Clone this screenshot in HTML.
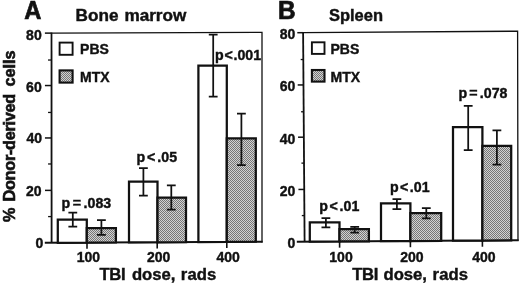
<!DOCTYPE html>
<html><head><meta charset="utf-8"><title>Figure</title>
<style>html,body{margin:0;padding:0;background:#fff;overflow:hidden}svg{display:block}text{font-family:"Liberation Sans",Arial,Helvetica,sans-serif;font-weight:bold;fill:#111;stroke:#111;stroke-width:0.4}</style>
</head><body>
<svg width="520" height="285" viewBox="0 0 520 285">
<defs><pattern id="ht" width="2" height="2" patternUnits="userSpaceOnUse"><rect width="2" height="2" fill="#d2d2d2"/><rect width="1" height="1" fill="#767676"/><rect x="1" y="1" width="1" height="1" fill="#767676"/></pattern></defs>
<rect width="520" height="285" fill="#fff"/>
<g stroke="#111" fill="none">
<path d="M51.5 33.1 L262 32.4 L262 242.5" stroke-width="1.3"/>
<path d="M51.5 32.5 L51.6 242.8" stroke-width="1.8"/>
<path d="M44.8 242.84 L262.65 241.70" stroke-width="2"/>
<path d="M44.98 190.38 H51.58" stroke-width="1.5"/>
<path d="M44.95 137.96 H51.55" stroke-width="1.5"/>
<path d="M44.93 85.54 H51.53" stroke-width="1.5"/>
<path d="M44.90 33.12 H51.50" stroke-width="1.5"/>
<path d="M48.09 216.59 H51.59" stroke-width="1.3"/>
<path d="M48.06 163.97 H51.56" stroke-width="1.3"/>
<path d="M48.04 112.45 H51.54" stroke-width="1.3"/>
<path d="M48.01 60.03 H51.51" stroke-width="1.3"/>
<path d="M87 242.61 V248.81" stroke-width="1.6"/>
<path d="M157.2 242.25 V248.45" stroke-width="1.6"/>
<path d="M226.8 241.88 V248.08" stroke-width="1.6"/>
</g>
<path d="M57.8 242.77 V219.6 H86.8 V242.62Z" fill="#fff" stroke="#111" stroke-width="2.25"/>
<path d="M86.8 242.62 V228.0 H115.9 V242.46Z" fill="url(#ht)" stroke="#111" stroke-width="2.25"/>
<path d="M129.0 242.40 V181.5 H157.5 V242.25Z" fill="#fff" stroke="#111" stroke-width="2.25"/>
<path d="M157.5 242.25 V197.7 H186.0 V242.10Z" fill="url(#ht)" stroke="#111" stroke-width="2.25"/>
<path d="M198.4 242.03 V65.5 H226.8 V241.88Z" fill="#fff" stroke="#111" stroke-width="2.25"/>
<path d="M226.8 241.88 V138.3 H255.8 V241.73Z" fill="url(#ht)" stroke="#111" stroke-width="2.25"/>
<path d="M72.8 212.6 V226.5 M68.39999999999999 212.6 H77.2 M68.39999999999999 226.5 H77.2" stroke="#111" stroke-width="1.75" fill="none"/>
<path d="M101.4 220.2 V234.8 M97.0 220.2 H105.80000000000001 M97.0 234.8 H105.80000000000001" stroke="#111" stroke-width="1.75" fill="none"/>
<path d="M143.4 168.2 V195.7 M139.0 168.2 H147.8 M139.0 195.7 H147.8" stroke="#111" stroke-width="1.75" fill="none"/>
<path d="M171.3 185.4 V209.5 M166.9 185.4 H175.70000000000002 M166.9 209.5 H175.70000000000002" stroke="#111" stroke-width="1.75" fill="none"/>
<path d="M213.2 34.7 V96.7 M208.79999999999998 34.7 H217.6 M208.79999999999998 96.7 H217.6" stroke="#111" stroke-width="1.75" fill="none"/>
<path d="M241.4 113.7 V165 M237.0 113.7 H245.8 M237.0 165 H245.8" stroke="#111" stroke-width="1.75" fill="none"/>
<rect x="59.6" y="42.6" width="13.0" height="12.2" fill="#fff" stroke="#111" stroke-width="1.9"/>
<rect x="59.6" y="70.4" width="13.0" height="12.2" fill="url(#ht)" stroke="#111" stroke-width="2.1"/>
<text transform="translate(80.1 54.3) scale(1.0 1)" font-size="14.0" text-anchor="start">PBS</text>
<text transform="translate(80.1 81.8) scale(1.0 1)" font-size="14.0" text-anchor="start">MTX</text>
<text transform="translate(24.3 18.8) scale(0.94 1)" font-size="25.2" text-anchor="start" style="stroke-width:0.7">A</text>
<text transform="scale(1.1 1)" y="21.45" font-size="15.6"><tspan x="68.73">Bone</tspan> <tspan x="113.09">marrow</tspan></text>
<text transform="translate(41.699999999999996 40.0) scale(1.0 1)" font-size="14.0" text-anchor="end">80</text>
<text transform="translate(41.699999999999996 91.5) scale(1.0 1)" font-size="14.0" text-anchor="end">60</text>
<text transform="translate(42.1 143.3) scale(1.0 1)" font-size="14.0" text-anchor="end">40</text>
<text transform="translate(41.6 196.3) scale(1.0 1)" font-size="14.0" text-anchor="end">20</text>
<text transform="translate(43.199999999999996 248.3) scale(1.0 1)" font-size="14.0" text-anchor="end">0</text>
<text transform="translate(88.4 262) scale(1.0 1)" font-size="14.0" text-anchor="middle">100</text>
<text transform="translate(158.6 262) scale(1.0 1)" font-size="14.0" text-anchor="middle">200</text>
<text transform="translate(228.20000000000002 262) scale(1.0 1)" font-size="14.0" text-anchor="middle">400</text>
<text transform="scale(1.04 1)" y="280.3" font-size="16"><tspan x="95.67" letter-spacing="-0.32">TBI</tspan> <tspan x="126.83">dose,</tspan> <tspan x="173.85" letter-spacing="0.12">rads</tspan></text>
<text transform="translate(61.6 207.5) scale(1.0 1)" font-size="14.2" text-anchor="start">p <tspan dx="-1.45">=</tspan> <tspan dx="-1.45">.083</tspan></text>
<text transform="translate(136.4 161.8) scale(1.0 1)" font-size="14.2" text-anchor="start">p <tspan dx="-1.95">&lt;</tspan> <tspan dx="-1.95">.05</tspan></text>
<text transform="translate(215.1 59.5) scale(1.0 1)" font-size="14.2" text-anchor="start">p <tspan dx="-3.25">&lt;</tspan> <tspan dx="-3.25">.001</tspan></text>
<g stroke="#111" fill="none">
<path d="M303.1 32.7 L517.6 31.2 L518.0 241.10000000000002" stroke-width="1.3"/>
<path d="M303.1 32.1 L304.6 241.7" stroke-width="1.8"/>
<path d="M296.8 241.75 L518.65 240.30" stroke-width="2"/>
<path d="M298.43 189.45 H304.23" stroke-width="1.5"/>
<path d="M298.05 137.20 H303.85" stroke-width="1.5"/>
<path d="M297.68 84.95 H303.48" stroke-width="1.5"/>
<path d="M297.30 32.70 H303.10" stroke-width="1.5"/>
<path d="M301.81 215.57 H304.41" stroke-width="1.3"/>
<path d="M301.44 163.12 H304.04" stroke-width="1.3"/>
<path d="M301.07 111.77 H303.67" stroke-width="1.3"/>
<path d="M300.69 59.52 H303.29" stroke-width="1.3"/>
<path d="M339.6 241.47 V247.67" stroke-width="1.6"/>
<path d="M410.4 241.01 V247.21" stroke-width="1.6"/>
<path d="M482.4 240.53 V246.73" stroke-width="1.6"/>
</g>
<path d="M309.8 241.67 V222.4 H339.5 V241.47Z" fill="#fff" stroke="#111" stroke-width="2.25"/>
<path d="M339.5 241.47 V229 H368.9 V241.28Z" fill="url(#ht)" stroke="#111" stroke-width="2.25"/>
<path d="M381 241.20 V203.3 H410.4 V241.01Z" fill="#fff" stroke="#111" stroke-width="2.25"/>
<path d="M410.4 241.01 V213.1 H441.2 V240.80Z" fill="url(#ht)" stroke="#111" stroke-width="2.25"/>
<path d="M453 240.73 V127.2 H482.4 V240.53Z" fill="#fff" stroke="#111" stroke-width="2.25"/>
<path d="M482.4 240.53 V145.8 H511.2 V240.34Z" fill="url(#ht)" stroke="#111" stroke-width="2.25"/>
<path d="M325.9 218.1 V227.3 M321.5 218.1 H330.29999999999995 M321.5 227.3 H330.29999999999995" stroke="#111" stroke-width="1.75" fill="none"/>
<path d="M354.7 226.8 V232.5 M350.3 226.8 H359.09999999999997 M350.3 232.5 H359.09999999999997" stroke="#111" stroke-width="1.75" fill="none"/>
<path d="M396.9 199 V209 M392.5 199 H401.29999999999995 M392.5 209 H401.29999999999995" stroke="#111" stroke-width="1.75" fill="none"/>
<path d="M426.3 208 V218.4 M421.90000000000003 208 H430.7 M421.90000000000003 218.4 H430.7" stroke="#111" stroke-width="1.75" fill="none"/>
<path d="M468.2 105.9 V150 M463.8 105.9 H472.59999999999997 M463.8 150 H472.59999999999997" stroke="#111" stroke-width="1.75" fill="none"/>
<path d="M496.9 130.4 V164.6 M492.5 130.4 H501.29999999999995 M492.5 164.6 H501.29999999999995" stroke="#111" stroke-width="1.75" fill="none"/>
<rect x="311.9" y="42.3" width="12.6" height="11.6" fill="#fff" stroke="#111" stroke-width="1.9"/>
<rect x="311.9" y="70.0" width="12.6" height="11.6" fill="url(#ht)" stroke="#111" stroke-width="2.1"/>
<text transform="translate(330.5 53.9) scale(1.0 1)" font-size="14.0" text-anchor="start">PBS</text>
<text transform="translate(330.5 81.8) scale(1.0 1)" font-size="14.0" text-anchor="start">MTX</text>
<text transform="translate(278.1 18.8) scale(0.97 1)" font-size="25.2" text-anchor="start" style="stroke-width:0.7">B</text>
<text transform="scale(1.058 1)" y="21.2" font-size="15.6"><tspan x="310.87">Spleen</tspan></text>
<text transform="translate(295.3 38.7) scale(1.0 1)" font-size="14.0" text-anchor="end">80</text>
<text transform="translate(295.3 91.0) scale(1.0 1)" font-size="14.0" text-anchor="end">60</text>
<text transform="translate(295.3 143.8) scale(1.0 1)" font-size="14.0" text-anchor="end">40</text>
<text transform="translate(295.3 196.3) scale(1.0 1)" font-size="14.0" text-anchor="end">20</text>
<text transform="translate(295.3 248.3) scale(1.0 1)" font-size="14.0" text-anchor="end">0</text>
<text transform="translate(341.0 261.6) scale(1.0 1)" font-size="14.0" text-anchor="middle">100</text>
<text transform="translate(411.79999999999995 261.6) scale(1.0 1)" font-size="14.0" text-anchor="middle">200</text>
<text transform="translate(483.79999999999995 261.6) scale(1.0 1)" font-size="14.0" text-anchor="middle">400</text>
<text transform="scale(1.04 1)" y="280.3" font-size="16"><tspan x="338.65" letter-spacing="-0.32">TBI</tspan> <tspan x="368.75">dose,</tspan> <tspan x="415.96" letter-spacing="0.12">rads</tspan></text>
<text transform="translate(319.2 211.2) scale(1.0 1)" font-size="14.2" text-anchor="start">p <tspan dx="-2.25">&lt;</tspan> <tspan dx="-2.25">.01</tspan></text>
<text transform="translate(389.9 191.5) scale(1.0 1)" font-size="14.2" text-anchor="start">p <tspan dx="-2.45">&lt;</tspan> <tspan dx="-2.45">.01</tspan></text>
<text transform="translate(458.5 98.1) scale(1.0 1)" font-size="14.2" text-anchor="start">p <tspan dx="-1.75">=</tspan> <tspan dx="-1.75">.078</tspan></text>
<text transform="translate(14.7 221.9) rotate(-90)" font-size="16.3" style="stroke-width:0.6"><tspan x="0">%</tspan> <tspan x="20.4" letter-spacing="-0.3">Donor-derived</tspan> <tspan x="135.3">cells</tspan></text>
</svg></body></html>
